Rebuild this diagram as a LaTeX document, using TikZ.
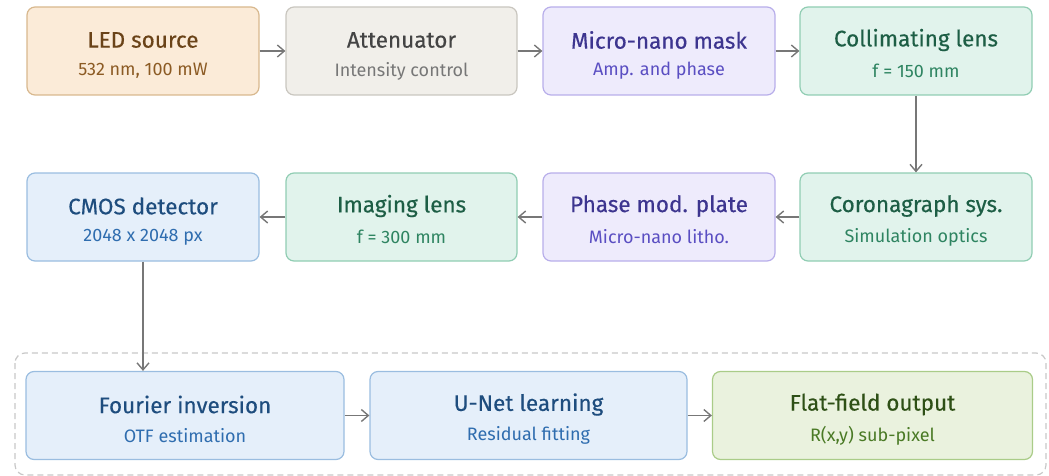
\documentclass[tikz,border=0pt]{standalone}
\usepackage{fontspec}
\setmainfont{Fira Sans}
\newfontfamily\titlefam{Fira Sans}[FakeBold=0.3]
\usetikzlibrary{arrows.meta}
\definecolor{ledF}{HTML}{FBEBD8}\definecolor{ledD}{HTML}{D8B88E}\definecolor{ledT}{HTML}{6A4318}\definecolor{ledS}{HTML}{8C5B24}
\definecolor{attF}{HTML}{F1EFEA}\definecolor{attD}{HTML}{C9C6BF}\definecolor{attT}{HTML}{444444}\definecolor{attS}{HTML}{777777}
\definecolor{purF}{HTML}{EEEBFC}\definecolor{purD}{HTML}{B8AEEA}\definecolor{purT}{HTML}{3D358F}\definecolor{purS}{HTML}{5A4EC2}
\definecolor{grnF}{HTML}{E1F3EC}\definecolor{grnD}{HTML}{90CDB3}\definecolor{grnT}{HTML}{1D5E45}\definecolor{grnS}{HTML}{2E8461}
\definecolor{bluF}{HTML}{E5EFFA}\definecolor{bluD}{HTML}{9ABDE0}\definecolor{bluT}{HTML}{1E4D7E}\definecolor{bluS}{HTML}{2F6DAF}
\definecolor{ffF}{HTML}{EAF2DE}\definecolor{ffD}{HTML}{AACC88}\definecolor{ffT}{HTML}{2E5016}\definecolor{ffS}{HTML}{4A7A25}
\definecolor{arr}{HTML}{777777}
\definecolor{groupline}{HTML}{C8C8C8}
\tikzset{
  blk/.style={draw, line width=1.2pt, rounded corners=8pt, inner sep=0pt, minimum height=88pt},
  tt/.style={font=\titlefam\fontsize{22.5}{22}\selectfont, anchor=center},
  st/.style={font=\fontsize{18}{18}\selectfont, anchor=center},
  flow/.style={draw=arr, line width=1.4pt, -{Straight Barb[length=7pt,width=12pt,line width=1.4pt]}},
}
\newcommand\blk[6]{%
  \node[blk, fill=#4F, draw=#4D, minimum width=#3pt] (#1) at (#2) {};
  \node[tt, text=#4T] (#1t) at ([yshift=11pt]#1.center) {#5};
  \node[st, text=#4S] (#1s) at ([yshift=-20pt]#1.center) {#6};
}
\begin{document}
\begin{tikzpicture}[x=1pt,y=-1pt]
\useasboundingbox (0,0) rectangle (1049,476);
\draw[draw=groupline, line width=1.2pt, dash pattern=on 6pt off 4pt, rounded corners=10pt] (15,353) rectangle (1046,475);
\blk{led}{143,51}{232}{led}{LED source}{532 nm, 100 mW}
\blk{att}{401.5,51}{231}{att}{Attenuator}{Intensity control}
\blk{mask}{659,51}{232}{pur}{Micro-nano mask}{Amp. and phase}
\blk{col}{916,51}{232}{grn}{Collimating lens}{f = 150 mm}
\blk{cor}{916,217}{232}{grn}{Coronagraph sys.}{Simulation optics}
\blk{pha}{659,217}{232}{pur}{Phase mod. plate}{Micro-nano litho.}
\blk{img}{401.5,217}{231}{grn}{Imaging lens}{f = 300 mm}
\blk{cmos}{143,217}{232}{blu}{CMOS detector}{2048 x 2048 px}
\blk{fou}{185,415.5}{318}{blu}{Fourier inversion}{OTF estimation}
\blk{unet}{528.5,415.5}{317}{blu}{U-Net learning}{Residual fitting}
\blk{ff}{872.5,415.5}{320}{ff}{Flat-field output}{R(x,y) sub-pixel}
\draw[flow] (led) -- (att);
\draw[flow] (att) -- (mask);
\draw[flow] (mask) -- (col);
\draw[flow] (col) -- (cor);
\draw[flow] (cor) -- (pha);
\draw[flow] (pha) -- (img);
\draw[flow] (img) -- (cmos);
\draw[flow] (cmos.south) -- (fou.north -| cmos.south);
\draw[flow] (fou) -- (unet);
\draw[flow] (unet) -- (ff);
\end{tikzpicture}
\end{document}
